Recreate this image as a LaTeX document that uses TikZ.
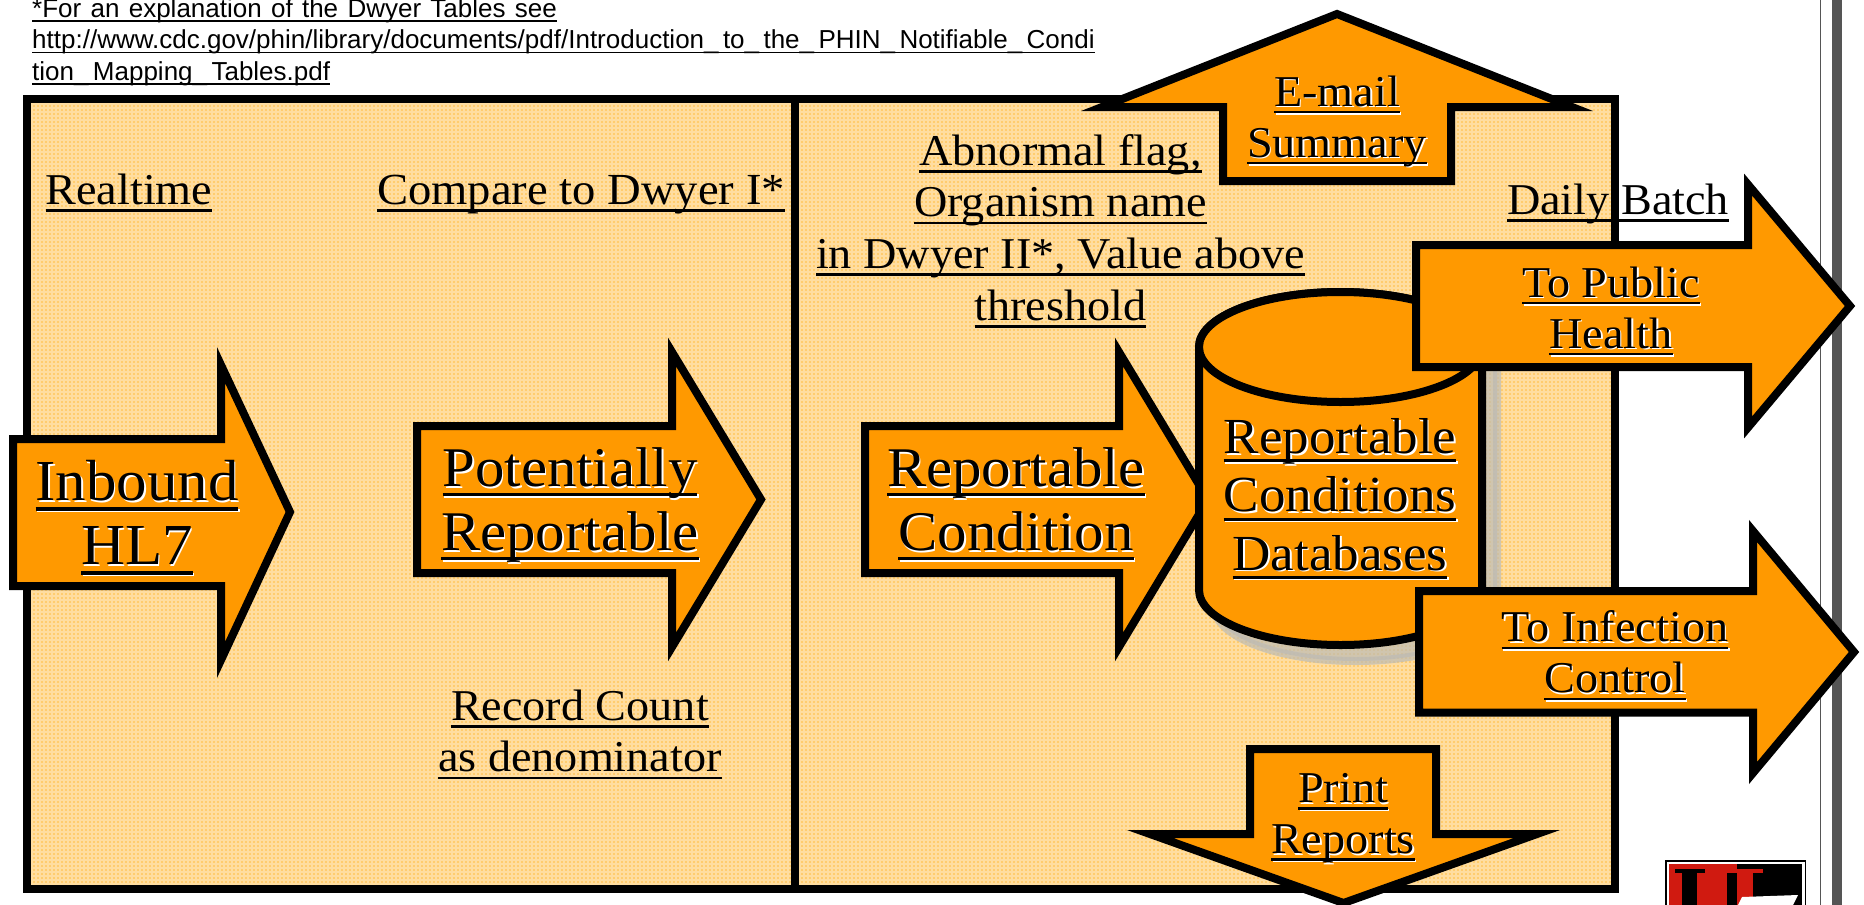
\documentclass[tikz,border=0pt]{standalone}
\usepackage{fontspec}
\setmainfont[FakeStretch=1.05]{Liberation Serif}
\newfontfamily\notefont{Liberation Sans}
\definecolor{boxorange}{HTML}{FF9900}
\definecolor{panelbase}{HTML}{FFCC6E}
\definecolor{dbshade}{HTML}{BDBBB5}
\definecolor{logored}{HTML}{D01A10}
\definecolor{railgray}{HTML}{555555}
\newlength{\ulwd}
\newcommand{\ultext}[1]{\settowidth{\ulwd}{#1}\rlap{\rule[-.17em]{\ulwd}{.06em}}#1\strut}
\newcommand{\shtext}[1]{\rlap{\hspace{1.5pt}\raisebox{-1.5pt}[0pt][0pt]{\color{white}\ultext{#1}}}\ultext{#1}}
\newcommand{\uscore}{\_\kern4.4pt}
\newcommand{\largefnt}{\fontsize{56}{64}\selectfont}
\newcommand{\midfnt}{\fontsize{50.5}{58.3}\selectfont}
\newcommand{\smallfnt}{\fontsize{44}{51}\selectfont}
\newcommand{\plainfnt}{\fontsize{44}{51.7}\selectfont}
\newcommand{\notefnt}{\notefont\fontsize{26}{31.5}\selectfont}

\begin{document}
\begin{tikzpicture}[x=1pt,y=-1pt,
    blockarrow/.style = {draw=black, line width=8pt, fill=boxorange, miter limit=10},
    panel/.style = {draw=black, line width=8pt},
    largelabel/.style = {font=\largefnt, align=center, inner sep=0pt},
    midlabel/.style = {font=\midfnt, align=center, inner sep=0pt},
    smalllabel/.style = {font=\smallfnt, align=center, inner sep=0pt},
    plainlabel/.style = {font=\plainfnt, align=center, inner sep=0pt}]
    \useasboundingbox (0,0) rectangle (1864,905);

    % page furniture
    \fill[railgray] (1819.5,0) rectangle (1821,905);
    \fill[railgray] (1832,0) rectangle (1842,905);

    % panel
    \fill[panelbase] (27,99) rectangle (1615,889);
    \draw[white, opacity=.35, line width=1.2pt, step=4pt] (31,103) grid (1611,885);
    \draw[panel] (27,99) rectangle (1615,889);
    \draw[panel] (795,99) -- (795,889);

    % logo
    \fill[black] (1665,860) rectangle (1806,905);
    \fill[white] (1666.5,861.5) rectangle (1804.5,905);
    \fill[logored] (1669,864) rectangle (1737,905);
    \fill[black] (1737,864) rectangle (1802,905);
    \fill[black] (1675,869) rectangle (1705,873);
    \fill[black] (1682,873) rectangle (1697,905);
    \fill[black] (1727,873) rectangle (1737,905);
    \fill[logored] (1727,869) rectangle (1763,873);
    \fill[logored] (1737,873) rectangle (1753,905);
    \fill[white] (1742,897) -- (1798,895) -- (1793,905) -- (1738,905) -- cycle;

    % left panel arrows
    \draw[blockarrow] (13,439) -- (221,439) -- (221,365) -- (290,512) -- (221,660) -- (221,586) -- (13,586) -- cycle;
    \draw[blockarrow] (417,426) -- (672,426) -- (672,352) -- (761,499.5) -- (672,647) -- (672,573) -- (417,573) -- cycle;

    % right panel arrow and database
    \draw[blockarrow] (865,426) -- (1119,426) -- (1119,352) -- (1208,499.5) -- (1119,647) -- (1119,573) -- (865,573) -- cycle;
    \path[draw=dbshade, fill=dbshade, line width=8pt, opacity=.7, shift={(15,16)}] (1199,347) -- (1199,590) arc[start angle=180, end angle=360, x radius=141.5pt, y radius=55pt]
        -- (1482,347) arc[start angle=0, end angle=180, x radius=141.5pt, y radius=55pt] -- cycle;
    \draw[blockarrow] (1199,347) -- (1199,590) arc[start angle=180, end angle=360, x radius=141.5pt, y radius=55pt]
        -- (1482,347) arc[start angle=0, end angle=180, x radius=141.5pt, y radius=55pt] -- cycle;
    \draw[blockarrow] (1340.5,347) ellipse[x radius=141.5pt, y radius=55pt];

    % outgoing arrows
    \draw[blockarrow] (1416,245) -- (1748,245) -- (1748,184.5) -- (1850,306) -- (1748,427.5) -- (1748,367) -- (1416,367) -- cycle;
    \draw[blockarrow] (1419,591) -- (1753,591) -- (1753,531) -- (1854,652) -- (1753,773) -- (1753,712.5) -- (1419,712.5) -- cycle;
    \draw[blockarrow] (1223,107) -- (1102,107) -- (1337,14) -- (1572,107) -- (1451,107) -- (1451,181) -- (1223,181) -- cycle;
    \draw[blockarrow] (1250,749) -- (1436,749) -- (1436,834) -- (1537,834) -- (1343.5,903) -- (1150,834) -- (1250,834) -- cycle;

    % footnote
    \node (note) [anchor=north west, inner sep=0pt, align=left, font=\notefnt] at (32,-5)
        {\spaceskip=9.3pt\ultext{*For an explanation of the Dwyer Tables see}\\
         \ultext{http://www.cdc.gov/phin/library/documents/pdf/Introduction\uscore to\uscore the\uscore PHIN\uscore Notifiable\uscore Condi}\\
         \ultext{tion\uscore Mapping\uscore Tables.pdf}};

    % plain labels
    \node[plainlabel] (realtime) at (129,193.8) {\ultext{Realtime}};
    \node[plainlabel, font=\fontsize{44.4}{51.7}\selectfont] (compare) at (581,193.8) {\ultext{Compare to Dwyer I*}};
    \node[plainlabel] (abnormal) at (1060.5,232.3) {\ultext{Abnormal flag,}\\\ultext{Organism name}\\\ultext{in Dwyer II*, Value above}\\\ultext{threshold}};
    \node[plainlabel] (daily) at (1618,204) {\ultext{Daily Batch}};
    \node[plainlabel] (record) at (580,735.8) {\ultext{Record Count}\\\ultext{as denominator}};

    % arrow labels
    \node[largelabel, font=\fontsize{58}{64}\selectfont] (inbound) at (137,520) {\shtext{Inbound}\\\shtext{HL7}};
    \node[largelabel] (potential) at (570,505.7) {\shtext{Potentially}\\\shtext{Reportable}};
    \node[largelabel] (condition) at (1016,505.7) {\shtext{Reportable}\\\shtext{Condition}};
    \node[midlabel] (database) at (1340,500.3) {\shtext{Reportable}\\\shtext{Conditions}\\\shtext{Databases}};
    \node[smalllabel] (public) at (1611,312.3) {\shtext{To Public}\\\shtext{Health}};
    \node[smalllabel] (infection) at (1615,657) {\shtext{To Infection}\\\shtext{Control}};
    \node[smalllabel] (email) at (1337,121.3) {\shtext{E-mail}\\\shtext{Summary}};
    \node[smalllabel] (print) at (1343,817.8) {\shtext{Print}\\\shtext{Reports}};
\end{tikzpicture}
\end{document}
